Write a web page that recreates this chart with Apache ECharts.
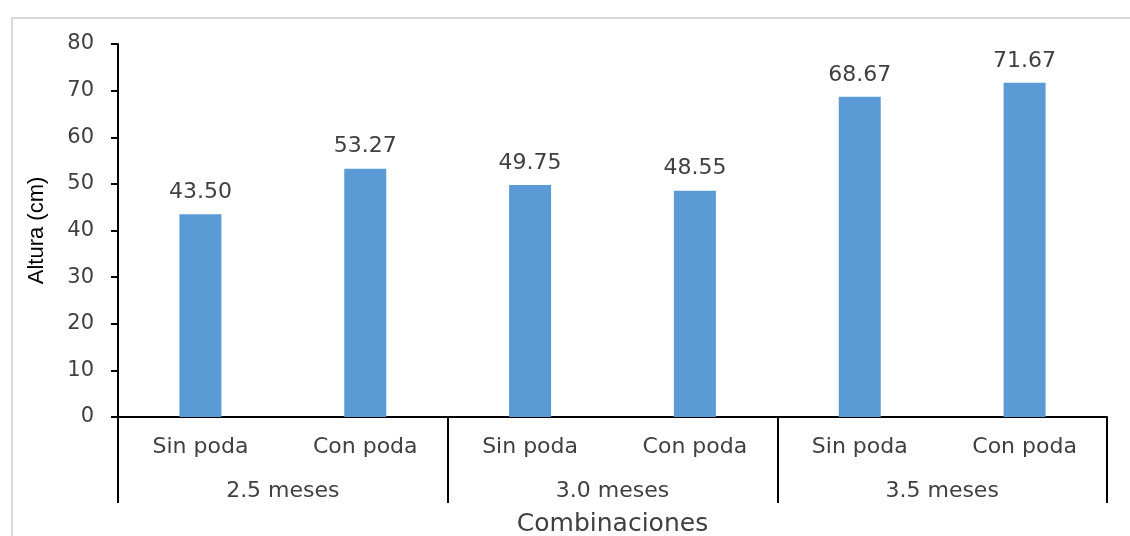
<!DOCTYPE html>
<html>
<head>
<meta charset="utf-8">
<script src="https://cdn.jsdelivr.net/npm/echarts@6/dist/echarts.min.js"></script>
<style>
html,body{margin:0;padding:0;background:#fff;overflow:hidden;width:1130px;height:536px;}
#frame{position:absolute;left:11px;top:17px;width:1200px;height:600px;border:2px solid #d9d9d9;box-sizing:border-box;}
#c{position:absolute;left:0;top:0;width:1130px;height:536px;}
</style>
</head>
<body>
<div id="frame"></div>
<div id="c"></div>
<script>
const subCategories = ["Sin poda","Con poda","Sin poda","Con poda","Sin poda","Con poda"];
const groups = ["2.5 meses","3.0 meses","3.5 meses"];
const alturas = [43.50, 53.27, 49.75, 48.55, 68.67, 71.67];
const yTicks = {min:0, max:80, interval:10};

const chart = echarts.init(document.getElementById('c'), null, {renderer:'canvas'});
const font = "'DejaVu Sans', sans-serif";
const txt = '#404040';
chart.setOption({
  animation:false,
  grid:{left:118, right:23, top:44, bottom:119, containLabel:false, outerBoundsMode:'none'},
  xAxis:[
    {type:'category', data:subCategories, position:'bottom',
     axisLine:{show:true, lineStyle:{color:'#000', width:2}},
     axisTick:{show:false},
     axisLabel:{color:txt, fontFamily:font, fontSize:22, margin:19},
     name:'Combinaciones', nameLocation:'middle', nameGap:95,
     nameTextStyle:{color:txt, fontFamily:font, fontSize:25}
    },
    {type:'category', data:groups, position:'bottom', boundaryGap:true,
     axisLine:{show:false},
     axisTick:{show:true, length:86, lineStyle:{color:'#000', width:2}},
     axisLabel:{color:txt, fontFamily:font, fontSize:22, margin:63}
    }
  ],
  yAxis:{type:'value', min:yTicks.min, max:yTicks.max, interval:yTicks.interval,
    axisLine:{show:true, lineStyle:{color:'#000', width:2}},
    axisTick:{show:true, length:7, lineStyle:{color:'#000', width:2}},
    splitLine:{show:false},
    axisLabel:{color:txt, fontFamily:font, fontSize:21, margin:24},
    name:'Altura (cm)', nameLocation:'middle', nameGap:70,
    nameTextStyle:{color:'#000', fontFamily:"'Liberation Sans', Arial, sans-serif", fontSize:22}
  },
  series:[{
    type:'bar', data:alturas, xAxisIndex:0, barWidth:42,
    itemStyle:{color:'#5b9bd5'},
    label:{show:true, position:'top', distance:11, color:txt, fontFamily:font, fontSize:22,
      formatter:p=>p.value.toFixed(2)}
  }]
});
</script>
</body>
</html>
